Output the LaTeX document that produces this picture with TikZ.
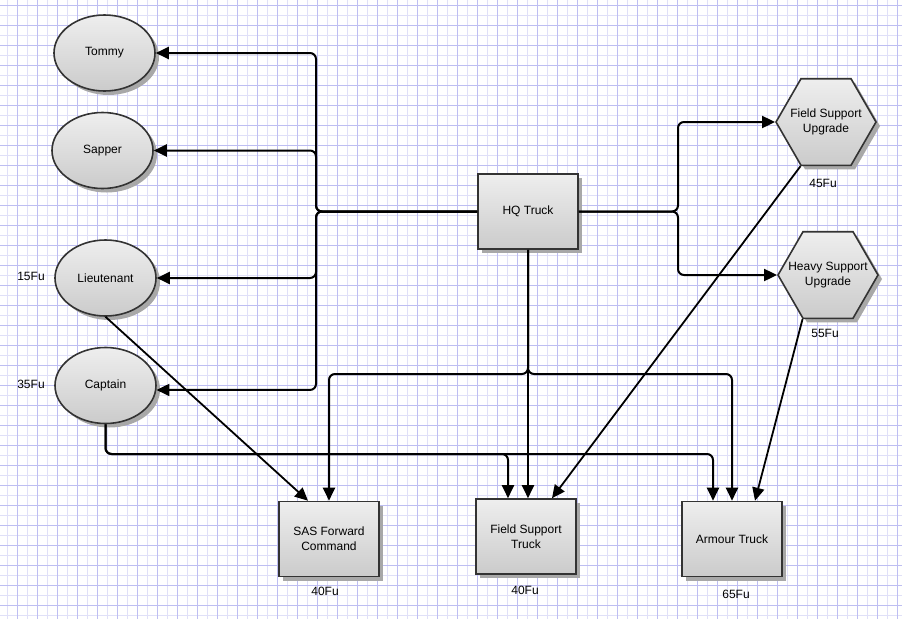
\documentclass[tikz,border=0pt]{standalone}
\usepackage{fontspec}
\setmainfont{Liberation Sans}
\usetikzlibrary{arrows.meta,shapes.geometric,shadows,calc}
\definecolor{gridmin}{HTML}{E0E0F8}
\definecolor{gridmaj}{HTML}{BEBEF2}
\definecolor{edgec}{HTML}{333333}
\definecolor{shadeA}{HTML}{EEEEEE}
\definecolor{shadeB}{HTML}{CBCBCB}
\definecolor{shadowc}{HTML}{A8A8A8}
\begin{document}
\begin{tikzpicture}[x=1pt,y=-1pt,
  every node/.style={font=\fontsize{12}{15}\selectfont, text=black},
  shp/.style={draw=edgec, line width=1.6pt, top color=shadeA, bottom color=shadeB,
    drop shadow={shadow xshift=4pt, shadow yshift=-4pt, fill=shadowc, opacity=1}, inner sep=0pt},
  ell/.style={shp, ellipse, minimum width=101pt, minimum height=76pt},
  boxn/.style={shp, rectangle, minimum width=100pt, minimum height=75pt, align=center},
  hexn/.style={shp, regular polygon, regular polygon sides=6, minimum size=100pt},
  conn/.style={draw=black, line width=2pt, rounded corners=6pt, -{Triangle[length=13pt,width=12pt]}},
  diag/.style={draw=black, line width=1.8pt, -{Triangle[length=13pt,width=12pt]}},
  fu/.style={inner sep=0pt}
]
\useasboundingbox (0,0) rectangle (902,619);
\fill[white] (0,0) rectangle (902,619);
% grid
\foreach \x in {7,27,...,907} \draw[gridmin, line width=1pt] (\x,0) -- (\x,619);
\foreach \y in {15,35,...,619} \draw[gridmin, line width=1pt] (0,\y) -- (902,\y);
\foreach \x in {17,37,...,900} \draw[gridmaj, line width=1pt] (\x,0) -- (\x,619);
\foreach \y in {5,25,...,619} \draw[gridmaj, line width=1pt] (0,\y) -- (902,\y);

% nodes
\node[ell] (Tommy) at (104.5,53) {Tommy};
\node[ell] (Sapper) at (102.5,150.5) {Sapper};
\node[ell] (Lieutenant) at (105.5,278) {Lieutenant};
\node[ell] (Captain) at (105.5,385.5) {Captain};
\node[boxn] (HQ) at (528,211.5) {HQ Truck};
\node[boxn] (SAS) at (329,539) {SAS Forward\\Command};
\node[boxn] (FST) at (526,536.5) {Field Support\\Truck};
\node[boxn] (Armour) at (732,539) {Armour Truck};
\node[hexn] (FSU) at (826,122) {};
\node[align=center] (FSUt) at (FSU) {Field Support\\Upgrade};
\node[hexn] (HSU) at (828,275) {};
\node[align=center] (HSUt) at (HSU) {Heavy Support\\Upgrade};

% cost labels
\node[fu] (fuL) at (31,276) {15Fu};
\node[fu] (fuC) at (31,384) {35Fu};
\node[fu] (fuFSU) at (823,183) {45Fu};
\node[fu] (fuHSU) at (825,333) {55Fu};
\node[fu] (fuSAS) at (325,591) {40Fu};
\node[fu] (fuFST) at (525,590) {40Fu};
\node[fu] (fuA) at (736,594) {65Fu};

% bus coordinates
\coordinate (busL) at (316,0);
\coordinate (busR) at (678,0);
\coordinate (hb) at (0,374);
\coordinate (cb) at (0,454);

% HQ to the left
\draw[conn] (HQ.west) -- (busL |- HQ.west) |- (Tommy.east);
\draw[conn] (HQ.west) -- (busL |- HQ.west) |- (Sapper.east);
\draw[conn] (HQ.west) -- (busL |- HQ.west) |- (Lieutenant.east);
\draw[conn] (HQ.west) -- (busL |- HQ.west) |- (Captain.-5);
% HQ to the right
\draw[conn] (HQ.east) -- (busR |- HQ.east) |- (FSU.west);
\draw[conn] (HQ.east) -- (busR |- HQ.east) |- (HSU.west);
% HQ downwards
\draw[conn] (HQ.south) -- (HQ.south |- FST.north);
\draw[conn] (HQ.south) |- (SAS.north |- hb) -- (SAS.north);
\draw[conn] (HQ.south) |- (Armour.north |- hb) -- (Armour.north);
% Captain downwards
\draw[conn] (Captain.south) |- ([xshift=-18pt]FST.north |- cb) -- ([xshift=-18pt]FST.north);
\draw[conn] (Captain.south) |- ([xshift=-19pt]Armour.north |- cb) -- ([xshift=-19pt]Armour.north);
% diagonals
\draw[diag] (Lieutenant.south) -- ([xshift=-21pt]SAS.north);
\draw[diag] (FSU.240) -- ([xshift=26pt]FST.north);
\draw[diag] (HSU.240) -- ([xshift=23pt]Armour.north);
\end{tikzpicture}
\end{document}
